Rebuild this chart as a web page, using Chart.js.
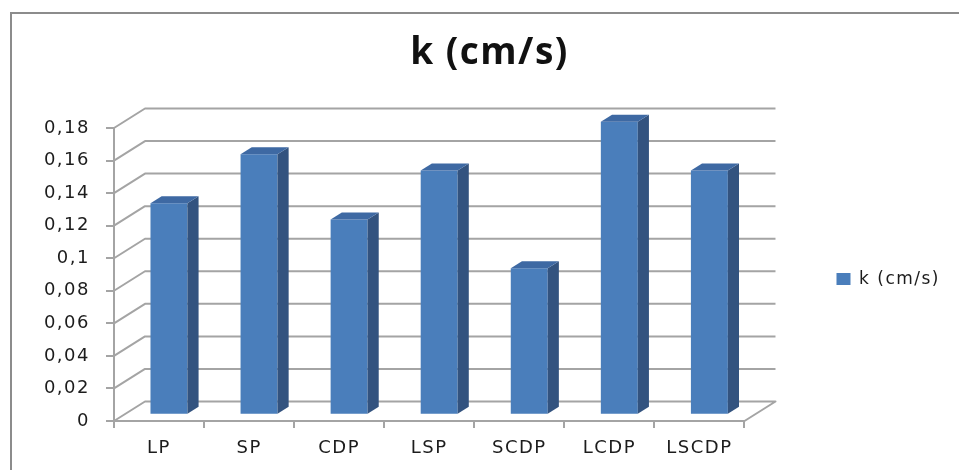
<!DOCTYPE html>
<html>
<head>
<meta charset="utf-8">
<script src="https://cdn.jsdelivr.net/npm/chart.js@4/dist/chart.umd.min.js"></script>
<style>
  html, body { margin: 0; padding: 0; background: #ffffff; }
  #wrap { width: 959px; height: 470px; position: relative; }
</style>
</head>
<body>
<div id="wrap"><canvas id="c" width="959" height="470"></canvas></div>
<script>
// Permeability per sample mix
const categories = ['LP', 'SP', 'CDP', 'LSP', 'SCDP', 'LCDP', 'LSCDP'];
const kValues = [0.13, 0.16, 0.12, 0.15, 0.09, 0.18, 0.15];
const seriesName = 'k (cm/s)';
const yTickLabels = ['0', '0,02', '0,04', '0,06', '0,08', '0,1', '0,12', '0,14', '0,16', '0,18'];
const yMin = 0;
const yMax = 0.18;
const yStep = 0.02;

// Styling for the pseudo-3D look
const COLORS = {
  front: '#4a7ebb',
  side: '#33537f',
  top: '#3e69a3',
  grid: '#a4a4a4',
  text: '#1c1c1c',
  frame: '#8c8c8c'
};
const WALL = { dx: 31, dy: -19.5 };   // offset from the front plane to the back wall
const FACE = 0.32;                     // depth at which the bar front faces sit
const DEPTH = 0.36;                    // bar thickness as a share of the floor depth
const SPACING = '1.5px';

const threeD = {
  id: 'threeD',
  beforeLayout(chart) { chart.ctx.letterSpacing = SPACING; },
  beforeDraw(chart) { chart.ctx.letterSpacing = SPACING; },
  beforeDatasetsDraw(chart) {
    const { ctx, chartArea: a, scales: { y } } = chart;
    ctx.save();
    ctx.strokeStyle = COLORS.grid;
    ctx.lineWidth = 2;
    ctx.lineJoin = 'round';
    y.ticks.forEach(t => {
      const py = y.getPixelForValue(t.value);
      ctx.beginPath();
      ctx.moveTo(a.left, py);
      ctx.lineTo(a.left + WALL.dx, py + WALL.dy);
      ctx.lineTo(a.right + WALL.dx, py + WALL.dy);
      if (t.value === yMin) ctx.lineTo(a.right, py);
      ctx.stroke();
    });
    ctx.restore();
    // front faces of the bars sit a little behind the front plane
    ctx.save();
    ctx.translate(WALL.dx * FACE, WALL.dy * FACE);
  },
  afterDatasetsDraw(chart) {
    const { ctx } = chart;
    ctx.restore();
    const ox = WALL.dx * FACE, oy = WALL.dy * FACE;
    const dx = WALL.dx * DEPTH, dy = WALL.dy * DEPTH;
    chart.getDatasetMeta(0).data.forEach(bar => {
      const { x, y, base, width } = bar.getProps(['x', 'y', 'base', 'width'], true);
      const l = x - width / 2 + ox, r = x + width / 2 + ox;
      const t = y + oy, b = base + oy;
      // side face
      ctx.beginPath();
      ctx.moveTo(r, t);
      ctx.lineTo(r + dx, t + dy);
      ctx.lineTo(r + dx, b + dy);
      ctx.lineTo(r, b);
      ctx.closePath();
      ctx.fillStyle = COLORS.side;
      ctx.fill();
      // top face
      ctx.beginPath();
      ctx.moveTo(l, t);
      ctx.lineTo(l + dx, t + dy);
      ctx.lineTo(r + dx, t + dy);
      ctx.lineTo(r, t);
      ctx.closePath();
      ctx.fillStyle = COLORS.top;
      ctx.fill();
    });
  },
  afterDraw(chart) {
    const { ctx } = chart;
    ctx.save();
    ctx.strokeStyle = COLORS.frame;
    ctx.lineWidth = 2;
    ctx.strokeRect(11, 13, 980, 500);
    ctx.restore();
  }
};

Chart.defaults.font.family = '"DejaVu Sans", sans-serif';
Chart.defaults.color = COLORS.text;

new Chart(document.getElementById('c'), {
  type: 'bar',
  data: {
    labels: categories,
    datasets: [{
      label: seriesName,
      data: kValues,
      backgroundColor: COLORS.front,
      borderWidth: 0,
      barPercentage: 0.41,
      categoryPercentage: 1,
      clip: false
    }]
  },
  options: {
    responsive: false,
    animation: false,
    events: [],
    layout: { padding: { left: 29, right: 9, top: 0, bottom: 0 } },
    plugins: {
      tooltip: { enabled: false },
      title: {
        display: true,
        text: seriesName,
        color: '#111111',
        font: { family: '"Open Sans", sans-serif', size: 37, weight: 'bold' },
        padding: { top: 31, bottom: 52.6 }
      },
      legend: {
        position: 'right',
        fullSize: false,
        title: { display: true, text: '', font: { size: 1 }, padding: { top: 8, bottom: 0 } },
        labels: {
          boxWidth: 14,
          boxHeight: 12,
          padding: 92,
          color: COLORS.text,
          font: { size: 17 }
        }
      }
    },
    scales: {
      x: {
        grid: { display: true, offset: true, drawOnChartArea: false, tickLength: 7, color: COLORS.grid, lineWidth: 2 },
        border: { display: true, color: COLORS.grid, width: 2 },
        ticks: { padding: 10, font: { size: 18 }, color: COLORS.text, maxRotation: 0 },
        afterFit(scale) { scale.height = 49; }
      },
      y: {
        min: yMin,
        max: yMax,
        grid: { display: true, drawOnChartArea: false, tickLength: 8, color: COLORS.grid, lineWidth: 2 },
        border: { display: true, color: COLORS.grid, width: 2 },
        ticks: {
          stepSize: yStep,
          padding: 16,
          font: { size: 18 },
          color: COLORS.text,
          callback: (v, i) => yTickLabels[i]
        },
        afterFit(scale) { scale.width = 85; }
      }
    }
  },
  plugins: [threeD]
});
</script>
</body>
</html>
